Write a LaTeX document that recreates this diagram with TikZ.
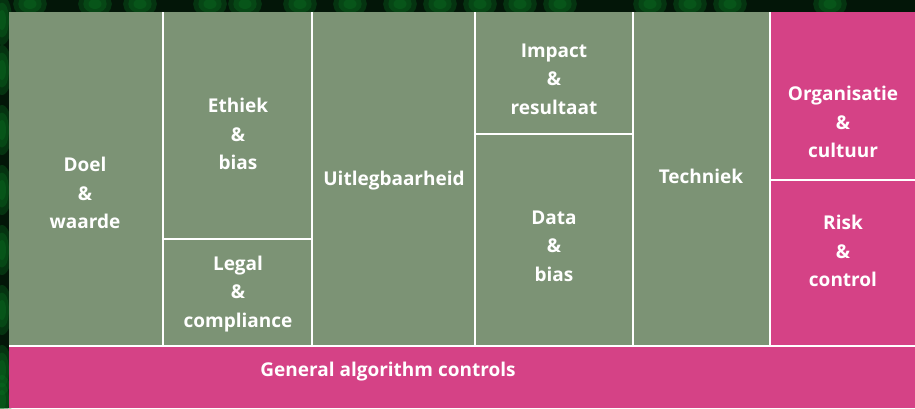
\documentclass[tikz,border=0pt]{standalone}
\usepackage{fontspec}
\setmainfont{Open Sans}
\usetikzlibrary{positioning}
\definecolor{sage}{RGB}{124,147,117}
\definecolor{rose}{RGB}{213,66,134}
\definecolor{glow}{RGB}{10,120,35}
\definecolor{night}{RGB}{3,22,8}
\tikzset{cell/.style={rectangle,inner sep=0pt,outer sep=0pt,anchor=north west},
  green cell/.style={cell,fill=sage},
  pink cell/.style={cell,fill=rose},
  lbl/.style={text=white,font=\bfseries\fontsize{19}{28.5}\selectfont,align=center,inner sep=0pt}}

\begin{document}
\begin{tikzpicture}[x=1pt,y=-1pt]
    \useasboundingbox (0,0) rectangle (915,408);
    \fill[night] (0,0) rectangle (915,408);
    \foreach \x in {30,95,140,210,245,300,350,400,440,480,520,560,650,690,730,830}{\foreach \r in {5,9,13}{\fill[glow,opacity=0.3] (\x,4) ellipse [x radius=\r*1.3, y radius=\r];}}
    \foreach \y in {20,70,130,190,250,310,370,400}{\foreach \r in {4,7,10}{\fill[glow,opacity=0.3] (2,\y) ellipse [x radius=\r, y radius=\r*2.5];}}
    \fill[white] (9,12) rectangle (915,408);

    \node[green cell, minimum width=153, minimum height=333] (doel) at (9,12) {};
    \node[green cell, minimum width=147, minimum height=226] (ethiek) at (164,12) {};
    \node[green cell, minimum width=147, minimum height=105] (legal) at (164,240) {};
    \node[green cell, minimum width=161, minimum height=333] (uitleg) at (313,12) {};
    \node[green cell, minimum width=156, minimum height=121] (impact) at (476,12) {};
    \node[green cell, minimum width=156, minimum height=210] (data) at (476,135) {};
    \node[green cell, minimum width=135, minimum height=333] (techniek) at (634,12) {};
    \node[pink cell, minimum width=144, minimum height=167] (organisatie) at (771,12) {};
    \node[pink cell, minimum width=144, minimum height=164] (risk) at (771,181) {};
    \node[pink cell, minimum width=906, minimum height=61] (general) at (9,347) {};

    \node[lbl] (doel text) at (85,193) {Doel\\\&\\waarde};
    \node[lbl] (ethiek text) at (238,134) {Ethiek\\\&\\bias};
    \node[lbl] (legal text) at (238,294) {Legal\\\&\\compliance};
    \node[lbl] (uitleg text) at (394,181) {Uitlegbaarheid};
    \node[lbl] (impact text) at (554,79) {Impact\\\&\\resultaat};
    \node[lbl] (data text) at (554,246) {Data\\\&\\bias};
    \node[lbl] (techniek text) at (701,176) {Techniek};
    \node[lbl] (organisatie text) at (843,122) {Organisatie\\\&\\cultuur};
    \node[lbl] (risk text) at (843,251) {Risk\\\&\\control};
    \node[lbl] (general text) at (388,372) {General algorithm controls};
\end{tikzpicture}
\end{document}
